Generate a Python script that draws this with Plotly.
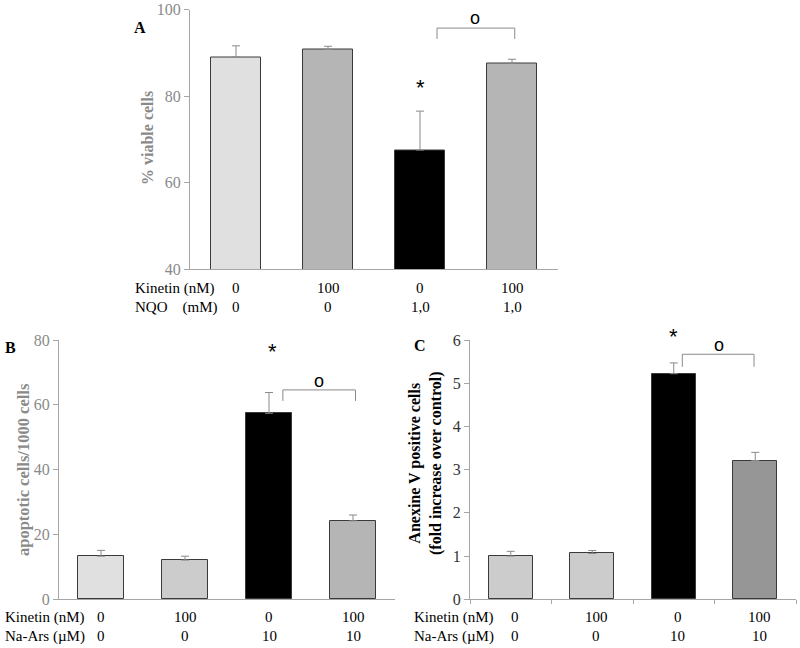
import plotly.graph_objects as go

W, H = 800, 648

# ---------------- data ----------------
cats = [0, 1, 2, 3]
# Panel A
a_kinetin = ["0", "100", "0", "100"]
a_nqo = ["0", "0", "1,0", "1,0"]
a_values = [89.0, 90.8, 67.5, 87.6]
a_errors = [2.6, 0.7, 9.0, 0.9]
a_colors = ["#e0e0e0", "#b5b5b5", "#000000", "#b5b5b5"]
# Panel B
b_kinetin = ["0", "100", "0", "100"]
b_ars = ["0", "0", "10", "10"]
b_values = [13.3, 12.1, 57.4, 24.2]
b_errors = [1.8, 1.2, 6.4, 1.8]
b_colors = ["#e0e0e0", "#cccccc", "#000000", "#b5b5b5"]
# Panel C
c_kinetin = ["0", "100", "0", "100"]
c_ars = ["0", "0", "10", "10"]
c_values = [1.0, 1.06, 5.22, 3.21]
c_errors = [0.11, 0.07, 0.25, 0.19]
c_colors = ["#cccccc", "#cccccc", "#000000", "#969696"]


def fx(p):
    return p / W


def fy(p):
    return 1 - p / H


SERIF = "Liberation Serif"
SANS = "Liberation Sans"
FS = 15

fig = go.Figure()

panels = [
    dict(x="x", y="y", vals=a_values, errs=a_errors, cols=a_colors),
    dict(x="x2", y="y2", vals=b_values, errs=b_errors, cols=b_colors),
    dict(x="x3", y="y3", vals=c_values, errs=c_errors, cols=c_colors),
]
for p in panels:
    fig.add_trace(go.Bar(
        x=cats, y=p["vals"], xaxis=p["x"], yaxis=p["y"], width=0.54,
        marker=dict(color=p["cols"], line=dict(color="#3a3a3a", width=1)),
        error_y=dict(type="data", array=p["errs"], arrayminus=[0] * 4,
                     symmetric=False, color="#8a8a8a", thickness=1, width=4),
        showlegend=False, hoverinfo="skip",
    ))

axis_common = dict(showgrid=False, zeroline=False, showline=True, linecolor="#a6a6a6",
                   linewidth=1, automargin=False)
xcommon = dict(axis_common, range=[-0.5, 3.5], showticklabels=False)

layout = dict(
    width=W, height=H, autosize=False,
    margin=dict(l=0, r=0, t=0, b=0, pad=0, autoexpand=False),
    paper_bgcolor="white", plot_bgcolor="white",
    bargap=0,
    xaxis=dict(xcommon, domain=[fx(190), fx(558)], anchor="y", ticks=""),
    yaxis=dict(axis_common, domain=[fy(269), fy(9.5)], anchor="x", range=[40, 100],
               tickvals=[40, 60, 80, 100], ticks="outside", ticklen=5, tickcolor="#a6a6a6",
               tickfont=dict(family=SERIF, size=16, color="#8a8a8a")),
    xaxis2=dict(xcommon, domain=[fx(59), fx(395)], anchor="y2", ticks=""),
    yaxis2=dict(axis_common, domain=[fy(599.3), fy(340)], anchor="x2", range=[0, 80],
                tickvals=[0, 20, 40, 60, 80], ticks="outside", ticklen=5, tickcolor="#a6a6a6",
                tickfont=dict(family=SERIF, size=16, color="#8a8a8a")),
    xaxis3=dict(xcommon, domain=[fx(470), fx(796)], anchor="y3", ticks="outside",
                tickvals=[-0.5, 0.5, 1.5, 2.5, 3.5], ticklen=4, tickcolor="#a6a6a6"),
    yaxis3=dict(axis_common, domain=[fy(599.3), fy(340)], anchor="x3", range=[0, 6],
                tickvals=[0, 1, 2, 3, 4, 5, 6], ticks="outside", ticklen=5, tickcolor="#a6a6a6",
                tickfont=dict(family=SERIF, size=16, color="#333333")),
)
fig.update_layout(**layout)

ann = []


def text(x, y, t, size=FS, color="black", bold=False, family=SERIF, xref="paper", yref="paper",
         xanchor="center", yanchor="middle", angle=0):
    if bold:
        t = "<b>" + t + "</b>"
    ann.append(dict(x=x, y=y, xref=xref, yref=yref, text=t, showarrow=False,
                    font=dict(family=family, size=size, color=color),
                    xanchor=xanchor, yanchor=yanchor, textangle=angle))


# panel letters
text(fx(140), fy(28), "A", size=16, bold=True)
text(fx(10), fy(347), "B", size=16, bold=True)
text(fx(420), fy(345), "C", size=16, bold=True)

# y-axis titles
text(fx(147), fy(138), "% viable cells", size=16, color="#8a8a8a", bold=True, angle=-90)
text(fx(23), fy(470), "apoptotic cells/1000 cells", size=16.5, color="#8a8a8a", bold=True, angle=-90)
text(fx(426), fy(463), "Anexine V positive cells<br>(fold increase over control)", size=16,
     bold=True, angle=-90)

# category rows
text(fx(133), fy(288), "Kinetin (nM)", xanchor="left")
text(fx(133), fy(307), "NQO\u00a0\u00a0\u00a0\u00a0(mM)", xanchor="left")
text(fx(3), fy(617), "Kinetin (nM)", xanchor="left")
text(fx(3), fy(636), "Na-Ars (\u00b5M)", xanchor="left")
text(fx(412), fy(617), "Kinetin (nM)", xanchor="left")
text(fx(412), fy(636), "Na-Ars (\u00b5M)", xanchor="left")
for i in cats:
    text(i, fy(288), a_kinetin[i], xref="x")
    text(i, fy(307), a_nqo[i], xref="x")
    text(i, fy(617), b_kinetin[i], xref="x2")
    text(i, fy(636), b_ars[i], xref="x2")
    text(i + 0.05, fy(617), c_kinetin[i], xref="x3")
    text(i + 0.05, fy(636), c_ars[i], xref="x3")

# significance marks
text(2.0, 82.0, "*", size=22, family=SANS, xref="x", yref="y")
text(2.04, 76.5, "*", size=22, family=SANS, xref="x2", yref="y2")
text(2.0, fy(336), "*", size=22, family=SANS, xref="x3", yref="paper")
text(2.6, 98.0, "o", size=18, family=SANS, xref="x", yref="y")
text(2.6, 67.2, "o", size=18, family=SANS, xref="x2", yref="y2")
text(2.55, 5.88, "o", size=18, family=SANS, xref="x3", yref="y3")

fig.update_layout(annotations=ann)


# brackets
def bracket(xr, yr, x0, x1, ytop, ybot):
    fig.add_shape(type="path", xref=xr, yref=yr,
                  path=f"M {x0} {ybot} L {x0} {ytop} L {x1} {ytop} L {x1} {ybot}",
                  line=dict(color="#8a8a8a", width=1))


bracket("x", "y", 2.185, 3.03, 95.7, 93.2)
bracket("x2", "y2", 2.165, 3.03, 64.6, 61.2)
bracket("x3", "y3", 2.105, 2.985, 5.67, 5.38)

fig.write_html(
    "out.html",
    config={"displayModeBar": False},
    post_script=(
        "var d=document.getElementById('{plot_id}');"
        "d.style.position='fixed';d.style.top='0px';d.style.left='0px';"
        "document.body.style.margin='0';document.body.style.padding='0';"
        "document.documentElement.style.overflow='hidden';document.body.style.overflow='hidden';"
    ),
)
